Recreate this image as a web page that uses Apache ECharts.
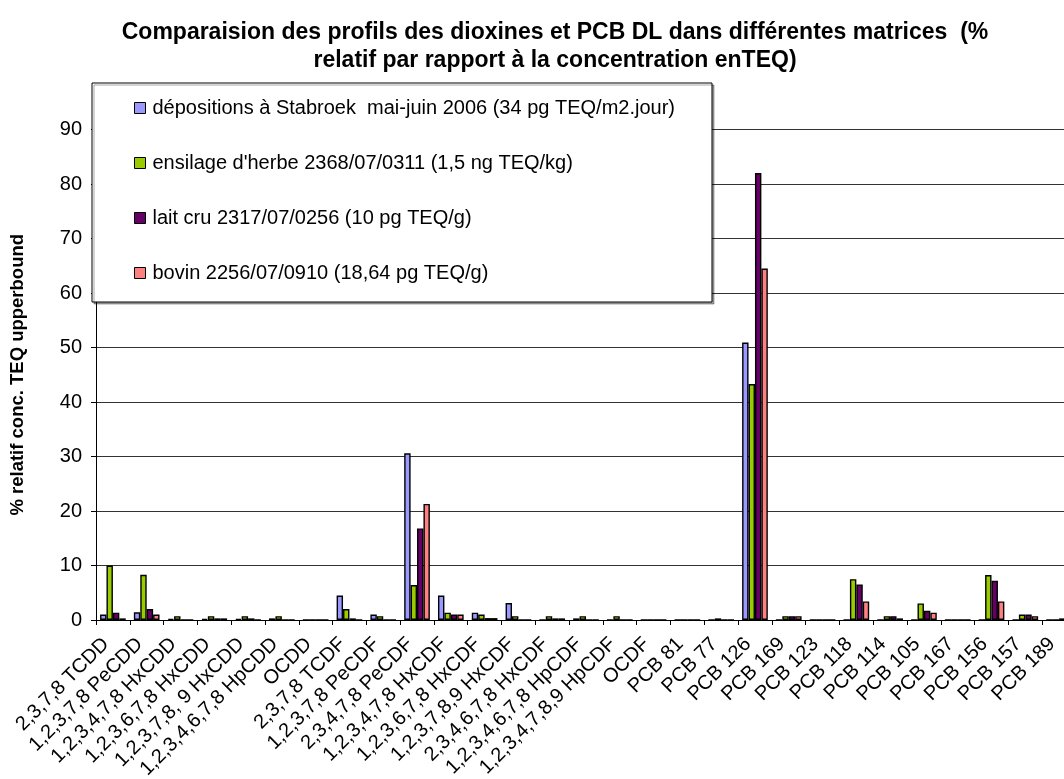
<!DOCTYPE html>
<html>
<head>
<meta charset="utf-8">
<title>Profils dioxines et PCB DL</title>
<script src="https://cdn.jsdelivr.net/npm/echarts@6/dist/echarts.min.js"></script>
<style>
  html, body { margin: 0; padding: 0; background: #fff; overflow: hidden; }
  /* le graphique original déborde un peu à droite */
  #chart { width: 1076px; height: 779px; }
</style>
</head>
<body>
<div id="chart"></div>
<script>
// congénères (axe x)
var categories = ['2,3,7,8 TCDD', '1,2,3,7,8 PeCDD', '1,2,3,4,7,8 HxCDD', '1,2,3,6,7,8 HxCDD',
  '1,2,3,7,8, 9 HxCDD', '1,2,3,4,6,7,8 HpCDD', 'OCDD', '2,3,7,8 TCDF', '1,2,3,7,8 PeCDF',
  '2,3,4,7,8 PeCDF', '1,2,3,4,7,8 HxCDF', '1,2,3,6,7,8 HxCDF', '1,2,3,7,8,9 HxCDF',
  '2,3,4,6,7,8 HxCDF', '1,2,3,4,6,7,8 HpCDF', '1,2,3,4,7,8,9 HpCDF', 'OCDF',
  'PCB 81', 'PCB 77', 'PCB 126', 'PCB 169', 'PCB 123', 'PCB 118', 'PCB 114',
  'PCB 105', 'PCB 167', 'PCB 156', 'PCB 157', 'PCB 189'];

// % relatif par matrice
var depositions = [1.0, 1.4, 0.2, 0.2, 0.2, 0.3, 0, 4.5, 1.0, 30.6, 4.5, 1.35, 3.1, 0, 0.3, 0, 0,
  0, 0, 50.9, 0, 0, 0, 0, 0, 0, 0, 0, 0];
var ensilage = [10.0, 8.3, 0.7, 0.7, 0.7, 0.7, 0, 2.0, 0.7, 6.4, 1.35, 1.0, 0.7, 0.7, 0.7, 0.7, 0,
  0, 0.3, 43.3, 0.7, 0, 7.5, 0.7, 3.05, 0, 8.25, 1.0, 0];
var laitCru = [1.35, 2.0, 0, 0.3, 0.3, 0, 0, 0.3, 0, 16.8, 1.0, 0.35, 0, 0.3, 0, 0, 0,
  0, 0, 82.0, 0.7, 0, 6.5, 0.7, 1.7, 0, 7.2, 1.0, 0.3];
var bovin = [0.3, 1.0, 0, 0.3, 0, 0, 0, 0, 0, 21.3, 1.0, 0.35, 0, 0.3, 0, 0, 0,
  0, 0, 64.5, 0.7, 0, 3.4, 0.3, 1.35, 0, 3.4, 0.7, 0];

var seriesNames = ['dépositions à Stabroek  mai-juin 2006 (34 pg TEQ/m2.jour)',
  "ensilage d'herbe 2368/07/0311 (1,5 ng TEQ/kg)",
  'lait cru 2317/07/0256 (10 pg TEQ/g)',
  'bovin 2256/07/0910 (18,64 pg TEQ/g)'];
var colors = ['#9999FF', '#99CC00', '#660066', '#FF8080'];
var yTicks = [0, 10, 20, 30, 40, 50, 60, 70, 80, 90];

var font = 'Liberation Sans, Arial, sans-serif';
var chart = echarts.init(document.getElementById('chart'));

function makeSeries(i, values) {
  return {
    name: seriesNames[i],
    type: 'bar',
    data: values,
    barGap: '0%',
    barCategoryGap: '24%',
    itemStyle: { color: colors[i], borderColor: '#000', borderWidth: 1.4 }
  };
}

var option = {
  backgroundColor: '#fff',
  animation: false,
  textStyle: { fontFamily: font },
  title: {
    text: 'Comparaision des profils des dioxines et PCB DL dans différentes matrices  (%\nrelatif par rapport à la concentration enTEQ)',
    left: 550,
    textAlign: 'center',
    top: 14,
    textStyle: { fontFamily: font, fontSize: 23, fontWeight: 'bold', color: '#000', lineHeight: 28 }
  },
  legend: {
    orient: 'vertical',
    left: 92,
    top: 83,
    padding: [15, 37, 19, 42],
    itemGap: 35,
    itemWidth: 11,
    itemHeight: 11,
    icon: 'rect',
    backgroundColor: '#fff',
    borderColor: '#000',
    borderWidth: 1,
    shadowColor: 'rgba(0,0,0,0.35)',
    shadowOffsetX: 2,
    shadowOffsetY: 2,
    itemStyle: { borderColor: '#000', borderWidth: 1 },
    textStyle: { fontFamily: font, fontSize: 20, color: '#000', padding: [0, 0, 0, 2] },
    data: seriesNames
  },
  grid: { left: 96, right: 0, top: 129.5, bottom: 159, containLabel: false, outerBoundsMode: 'none' },
  xAxis: {
    type: 'category',
    data: categories,
    axisLine: { lineStyle: { color: '#000', width: 1 } },
    axisTick: { show: true, length: 5, lineStyle: { color: '#000' } },
    axisLabel: {
      rotate: 45, interval: 0, margin: 14, padding: [0, 10, 0, 0],
      fontFamily: font, fontSize: 20, color: '#000'
    }
  },
  yAxis: {
    type: 'value',
    min: yTicks[0],
    max: yTicks[yTicks.length - 1],
    interval: 10,
    name: '% relatif conc. TEQ upperbound',
    nameLocation: 'middle',
    nameGap: 69,
    nameTextStyle: { fontFamily: font, fontSize: 18.5, fontWeight: 'bold', color: '#000' },
    axisLine: { show: true, lineStyle: { color: '#000', width: 1 } },
    axisTick: { show: true, length: 5, lineStyle: { color: '#000' } },
    axisLabel: { margin: 14, fontFamily: font, fontSize: 20, color: '#000' },
    splitLine: { show: true, lineStyle: { color: '#333', width: 1 } }
  },
  series: [
    makeSeries(0, depositions),
    makeSeries(1, ensilage),
    makeSeries(2, laitCru),
    makeSeries(3, bovin)
  ]
};

chart.setOption(option);
</script>
</body>
</html>
